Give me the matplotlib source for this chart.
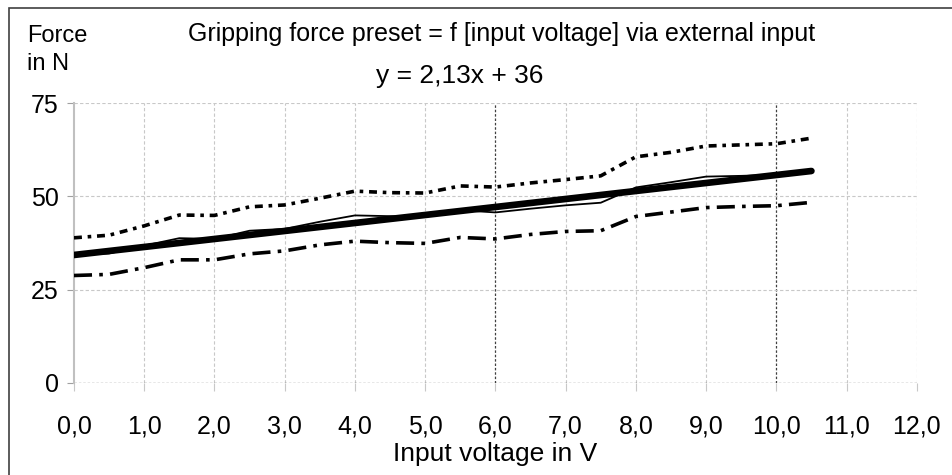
import numpy as np
import matplotlib
matplotlib.use('Agg')
import matplotlib.pyplot as plt
from matplotlib.patches import Rectangle

plt.rcParams['font.family'] = ['Liberation Sans', 'DejaVu Sans']

# input voltage steps in V
volt = [0.0, 0.5, 1.0, 1.5, 2.0, 2.5, 3.0, 3.5, 4.0, 4.5, 5.0,
        5.5, 6.0, 6.5, 7.0, 7.5, 8.0, 8.5, 9.0, 9.5, 10.0, 10.5]
# measured gripping force in N
force_mean = [34.3, 34.7, 36.8, 38.8, 38.6, 40.8, 41.3, 43.2, 44.9, 44.7, 44.6,
              46.3, 45.7, 46.7, 47.6, 48.3, 52.4, 53.8, 55.3, 55.5, 55.8, 57.0]
force_max = [38.9, 39.6, 42.1, 45.0, 44.9, 47.2, 47.7, 49.5, 51.4, 51.0, 50.9,
             52.8, 52.5, 53.6, 54.5, 55.5, 60.6, 61.8, 63.5, 63.8, 64.1, 65.6]
force_min = [28.8, 29.1, 30.9, 33.0, 33.0, 34.6, 35.4, 37.0, 38.0, 37.6, 37.4,
             39.0, 38.6, 39.8, 40.6, 40.8, 44.6, 45.8, 47.0, 47.3, 47.5, 48.4]
# linear trend end points
trend_x = [0.0, 10.5]
trend_y = [34.3, 56.8]

xticks = np.arange(0, 13, 1)
xlabels = ['%d,0' % v for v in xticks]
yticks = [0, 25, 50, 75]

fig = plt.figure(figsize=(9.52, 4.75), dpi=100)
ax = fig.add_axes([0.0777, 0.1937, 0.963 - 0.0777, 0.783 - 0.1937])

# frame round the chart
fig.patches.append(Rectangle((9 / 952, -0.1), 1.2, 1 - 8 / 475 + 0.1, transform=fig.transFigure,
                             fill=False, edgecolor='#404040', linewidth=1.2))

for v in xticks[1:]:
    if v in (6, 10):
        ax.axvline(v, color='#404040', linestyle=(0, (2, 1.5)), linewidth=0.9, zorder=1)
    else:
        ax.axvline(v, color='#c8c8c8', linestyle=(0, (3, 2)), linewidth=0.8, zorder=1)
for v in yticks[1:]:
    ax.axhline(v, color='#c8c8c8', linestyle=(0, (3, 2)), linewidth=0.8, zorder=1)
ax.axhline(0, color='#404040', linestyle=(0, (2, 1.5)), linewidth=0.9, zorder=2)

ax.plot(volt, force_max, color='black', linewidth=2.6, linestyle=(0, (2.2, 1.6, 1, 1.6)), zorder=3)
ax.plot(volt, force_min, color='black', linewidth=2.6, linestyle=(0, (5, 2, 1, 2)), zorder=3)
ax.plot(volt, force_mean, color='black', linewidth=1.3, zorder=4)
ax.plot(trend_x, trend_y, color='black', linewidth=4.8, solid_capstyle='round', zorder=4)

ax.set_xlim(0, 12)
ax.set_ylim(0, 75)
ax.set_xticks(xticks)
ax.set_xticklabels(xlabels)
ax.set_yticks(yticks)
for s in ('top', 'right', 'bottom'):
    ax.spines[s].set_visible(False)
ax.spines['left'].set_color('#c0c0c0')
ax.spines['left'].set_linewidth(1.5)
ax.tick_params(axis='x', length=6, color='#c8c8c8', labelsize=18, pad=17)
ax.tick_params(axis='y', length=5, color='#a0a0a0', labelsize=18, pad=6)

ax.set_xlabel('Input voltage in V', fontsize=19, labelpad=2)
fig.text(27 / 952, 1 - 50 / 475, 'Force\nin N', fontsize=17, ha='left', va='center', linespacing=1.4)
fig.text(502 / 952, 1 - 34 / 475, 'Gripping force preset = f [input voltage] via external input',
         fontsize=18, ha='center', va='center')
fig.text(460 / 952, 1 - 76 / 475, 'y = 2,13x + 36', fontsize=19, ha='center', va='center')

fig.savefig('out.png', dpi=100)
